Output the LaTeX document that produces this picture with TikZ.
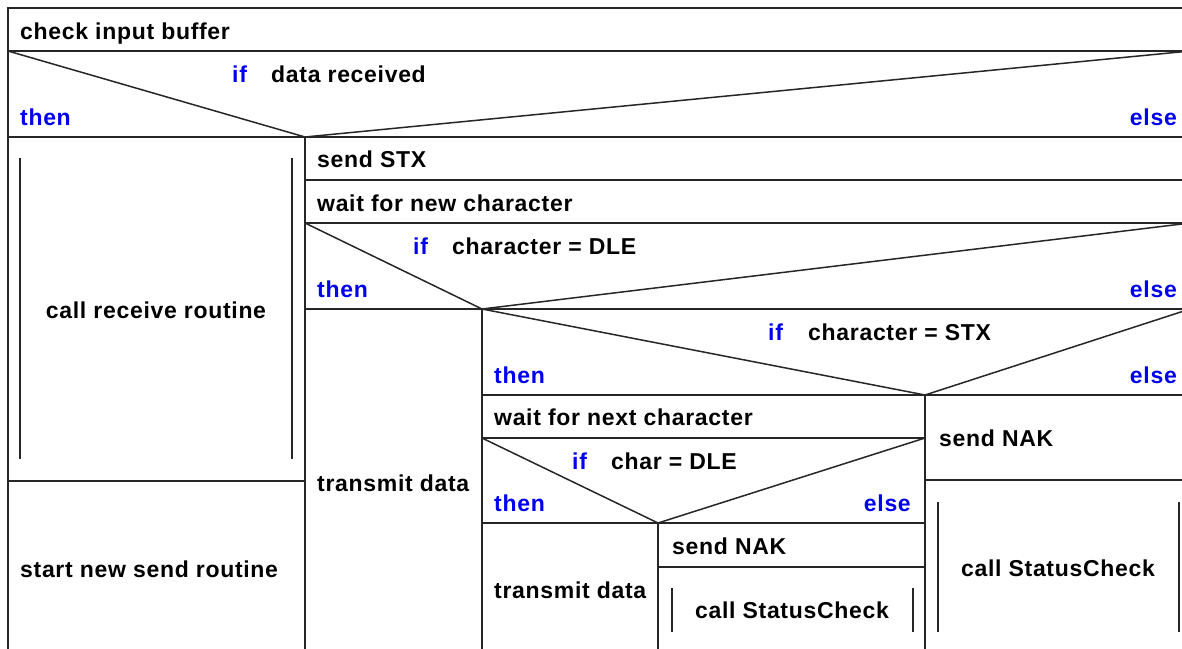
\documentclass[tikz,border=0pt]{standalone}
\usepackage{fontspec}
\setmainfont{Liberation Sans}[LetterSpace=3]
\definecolor{kw}{RGB}{0,0,240}
\begin{document}
\begin{tikzpicture}[x=1pt,y=-1pt,
  ln/.style={line width=1.5pt,black!85},
  txt/.style={inner sep=0pt,anchor=base west,font=\fontsize{23}{27}\selectfont\bfseries},
  ctxt/.style={inner sep=0pt,anchor=base,font=\fontsize{23}{27}\selectfont\bfseries},
  kwl/.style={txt,text=kw},
  kwr/.style={inner sep=0pt,anchor=base east,font=\fontsize{23}{27}\selectfont\bfseries,text=kw}]
\useasboundingbox (0,0) rectangle (1182,648);
\begin{scope}
\clip (0,0) rectangle (1182,648);
% outer frame
\draw[ln] (8,652) -- (8,8) -- (1195,8);
% horizontals main
\draw[ln] (8,51) -- (1195,51);
\draw[ln] (8,137) -- (1195,137);
% top if diagonals
\draw[ln] (8,51) -- (305,137) -- (1190,51);
% left column
\draw[ln] (305,137) -- (305,652);
\draw[ln] (8,481) -- (305,481);
\draw[ln] (20,158) -- (20,459);
\draw[ln] (292,158) -- (292,459);
% right block
\draw[ln] (305,180) -- (1195,180);
\draw[ln] (305,223) -- (1195,223);
\draw[ln] (305,309) -- (1195,309);
\draw[ln] (305,223) -- (482,309) -- (1190,223);
\draw[ln] (482,309) -- (482,652);
% if char = STX
\draw[ln] (482,395) -- (1195,395);
\draw[ln] (482,309) -- (925,395) -- (1190,309);
\draw[ln] (925,395) -- (925,652);
% wait next char / if char = DLE
\draw[ln] (482,438) -- (925,438);
\draw[ln] (482,523) -- (925,523);
\draw[ln] (482,438) -- (658,523) -- (925,438);
\draw[ln] (658,523) -- (658,652);
\draw[ln] (658,567) -- (925,567);
\draw[ln] (672,588) -- (672,632);
\draw[ln] (913,588) -- (913,632);
% right column
\draw[ln] (925,480) -- (1195,480);
\draw[ln] (938,502) -- (938,632);
\draw[ln] (1179,502) -- (1179,632);
\end{scope}
% texts
\node[txt] (t1) at (20,39) {check input buffer};
\node[kwl] (if1) at (232,82) {if};
\node[txt] (c1) at (271,82) {data received};
\node[kwl] (th1) at (20,125) {then};
\node[kwr] (el1) at (1177,125) {else};
\node[ctxt] (crr) at (156,318) {call receive routine};
\node[txt] (snr) at (20,577) {start new send routine};
\node[txt] (stx) at (317,167) {send STX};
\node[txt] (wnc) at (317,211) {wait for new character};
\node[kwl] (if2) at (413,254) {if};
\node[txt] (c2) at (452,254) {character = DLE};
\node[kwl] (th2) at (317,297) {then};
\node[kwr] (el2) at (1177,297) {else};
\node[txt] (td1) at (317,491) {transmit data};
\node[kwl] (if3) at (768,340) {if};
\node[txt] (c3) at (808,340) {character = STX};
\node[kwl] (th3) at (494,383) {then};
\node[kwr] (el3) at (1177,383) {else};
\node[txt] (wxc) at (494,425) {wait for next character};
\node[kwl] (if4) at (572,469) {if};
\node[txt] (c4) at (611,469) {char = DLE};
\node[kwl] (th4) at (494,511) {then};
\node[kwr] (el4) at (911,511) {else};
\node[txt] (td2) at (494,598) {transmit data};
\node[txt] (nak1) at (672,554) {send NAK};
\node[ctxt] (sc1) at (792,618) {call StatusCheck};
\node[txt] (nak2) at (939,446) {send NAK};
\node[ctxt] (sc2) at (1058,576) {call StatusCheck};
\end{tikzpicture}
\end{document}
